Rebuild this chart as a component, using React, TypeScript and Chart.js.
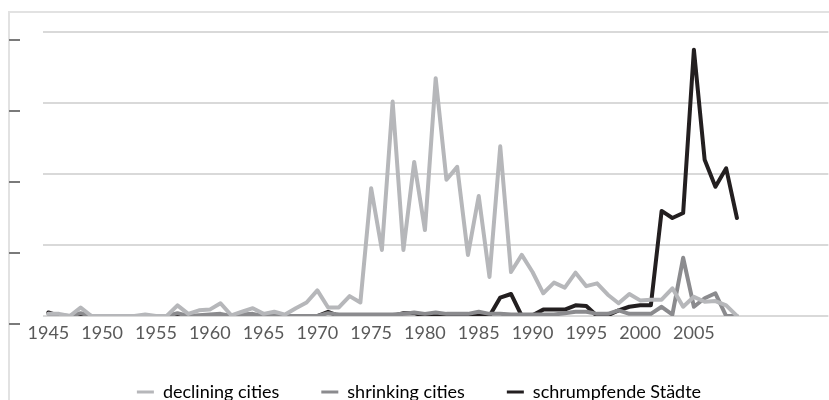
import React, { useEffect, useRef } from "react";
import { Chart, registerables } from "chart.js";

Chart.register(...registerables);

// Categories: years 1945..2017 (axis runs past the data, as in the cropped original)
const categories: string[] = Array.from({ length: 73 }, (_, i) => String(1945 + i));
const tickLabels: string[] = ["1945", "1950", "1955", "1960", "1965", "1970", "1975", "1980", "1985", "1990", "1995", "2000", "2005"];

// 1945 .. 2009
const decliningCities: number[] = [
  0.3, 0.3, 0.0, 1.2, 0.0, 0.0, 0.0, 0.0, 0.0, 0.2,
  0.0, 0.0, 1.5, 0.3, 0.8, 0.9, 1.8, 0.1, 0.6, 1.1,
  0.3, 0.6, 0.2, 1.1, 1.9, 3.6, 1.2, 1.2, 2.8, 1.9,
  18.0, 9.3, 30.2, 9.3, 21.7, 12.1, 33.5, 19.2, 21.0, 8.6,
  16.9, 5.5, 23.9, 6.2, 8.6, 6.2, 3.2, 4.7, 4.0, 6.1,
  4.2, 4.6, 3.0, 1.8, 3.1, 2.2, 2.3, 2.3, 3.9, 1.3,
  2.7, 2.0, 2.1, 1.5, 0.0,
];
const shrinkingCities: number[] = [
  0.3, 0.1, 0.0, 0.4, 0.0, 0.0, 0.0, 0.0, 0.0, 0.0,
  0.0, 0.0, 0.4, 0.0, 0.1, 0.2, 0.3, 0.0, 0.2, 0.3,
  0.0, 0.1, 0.0, 0.0, 0.0, 0.0, 0.4, 0.2, 0.2, 0.2,
  0.2, 0.2, 0.2, 0.3, 0.5, 0.3, 0.5, 0.3, 0.3, 0.3,
  0.6, 0.3, 0.3, 0.2, 0.2, 0.2, 0.2, 0.2, 0.4, 0.6,
  0.6, 0.3, 0.3, 0.8, 0.3, 0.3, 0.3, 1.3, 0.2, 8.2,
  1.3, 2.5, 3.2, 0.0, 0.0,
];
const schrumpfendeStaedte: number[] = [
  0.5, 0.0, 0.0, 0.0, 0.0, 0.0, 0.0, 0.0, 0.0, 0.0,
  0.0, 0.0, 0.2, 0.0, 0.0, 0.0, 0.0, 0.0, 0.0, 0.0,
  0.0, 0.0, 0.0, 0.0, 0.0, 0.0, 0.6, 0.0, 0.0, 0.0,
  0.0, 0.0, 0.0, 0.4, 0.4, 0.0, 0.0, 0.0, 0.0, 0.0,
  0.0, 0.0, 2.6, 3.1, 0.0, 0.1, 0.9, 0.9, 0.9, 1.5,
  1.4, 0.0, 0.1, 0.8, 1.3, 1.5, 1.5, 14.8, 13.8, 14.5,
  37.5, 22.0, 18.2, 20.8, 13.8,
];

const seriesNames: string[] = ["declining cities", "shrinking cities", "schrumpfende Städte"];
const seriesColors: string[] = ["#b6b7ba", "#8b8b8e", "#231f20"];

const yTickDashes = {
  id: "yTickDashes",
  afterDraw(chart: any) {
    const y = chart.scales.y;
    const ctx = chart.ctx;
    ctx.save();
    ctx.fillStyle = "#7a7a7a";
    y.ticks.forEach((_t: any, i: number) => {
      const py = Math.round(y.getPixelForTick(i) + 8);
      ctx.fillRect(9, py - 1, 11, 2);
    });
    ctx.restore();
  },
};

export default function App() {
  const ref = useRef<HTMLCanvasElement | null>(null);

  useEffect(() => {
    document.body.style.margin = "0";
    if (!ref.current) return;
    const font = "Lato, 'Open Sans', sans-serif";
    const chart = new Chart(ref.current, {
      type: "line",
      data: {
        labels: categories,
        datasets: [decliningCities, shrinkingCities, schrumpfendeStaedte].map((d, i) => ({
          label: seriesNames[i],
          data: d,
          borderColor: seriesColors[i],
          backgroundColor: seriesColors[i],
          borderWidth: 4,
          pointRadius: 0,
          tension: 0,
          borderJoinStyle: "round" as const,
          borderCapStyle: "round" as const,
        })),
      },
      options: {
        animation: false,
        responsive: false,
        devicePixelRatio: 1,
        layout: { padding: { top: 32, left: 9, right: 0, bottom: 0 } },
        font: { family: font },
        scales: {
          x: {
            type: "category",
            offset: true,
            grid: { display: false, drawTicks: false },
            border: { display: false },
            ticks: {
              autoSkip: false,
              maxRotation: 0,
              minRotation: 0,
              padding: 6,
              color: "#595959",
              font: { family: font, size: 18 },
              callback: (_v: any, i: number) => (tickLabels.includes(categories[i]) ? categories[i] : ""),
            },
            afterFit: (s: any) => {
              s.height = 25;
            },
          },
          y: {
            min: 0,
            max: 40,
            ticks: { stepSize: 10, display: false },
            grid: { color: "#d9d9d9", lineWidth: 2, drawTicks: false },
            border: { display: false },
            afterFit: (s: any) => {
              s.width = 34;
            },
          },
        },
        plugins: {
          tooltip: { enabled: false },
          legend: {
            position: "bottom",
            labels: {
              boxWidth: 17,
              boxHeight: 3,
              padding: 42,
              color: "#595959",
              font: { family: font, size: 18 },
              generateLabels: () =>
                seriesNames.map((n, i) => ({
                  text: n,
                  fillStyle: seriesColors[i],
                  strokeStyle: seriesColors[i],
                  lineWidth: 0,
                  hidden: false,
                  datasetIndex: i,
                })),
            },
          },
        },
      },
      plugins: [yTickDashes],
    });
    return () => chart.destroy();
  }, []);

  return (
    <div style={{ position: "relative", width: 829, height: 400, overflow: "hidden", background: "#fff" }}>
      <div
        style={{
          position: "absolute",
          left: 8,
          top: 11,
          width: 900,
          height: 500,
          borderTop: "2px solid #e2e2e2",
          borderLeft: "2px solid #e2e2e2",
        }}
      />
      <canvas ref={ref} width={829} height={411} style={{ position: "absolute", left: 0, top: 0, display: "block" }} />
    </div>
  );
}
